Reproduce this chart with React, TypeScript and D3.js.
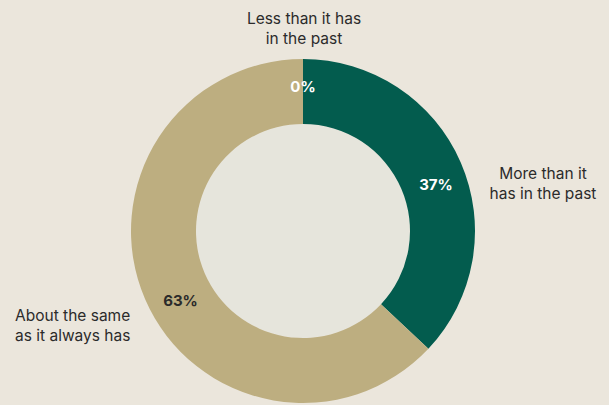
import React from "react";
import * as d3 from "d3";

// Survey responses: share of answers per category
const categories = ["More than it has in the past", "About the same as it always has", "Less than it has in the past"];
const values = [37, 63, 0];
const valueLabels = ["37%", "63%", "0%"];
const categoryLines = [["More than it", "has in the past"], ["About the same", "as it always has"], ["Less than it has", "in the past"]];

const W = 609;
const H = 405;
const cx = 303;
const cy = 231;
const outerR = 172;
const innerR = 107;

const colors = ["#035c4e", "#bdae80", "#bdae80"];
const valueColors = ["#ffffff", "#2a2a2a", "#ffffff"];
// angular nudge (degrees) for value labels inside the ring
const labelNudge = [4, -6.3, 0];

export default function App() {
  const pie = d3
    .pie<number>()
    .sort(null)
    .value((d) => d);
  const arcs = pie(values);
  const arc = d3.arc<d3.PieArcDatum<number>>().innerRadius(innerR).outerRadius(outerR);
  const labelR = (innerR + outerR) / 2 + 1.5;

  const font = "Inter, 'Noto Sans', sans-serif";
  const catSize = 15.5;

  return (
    <svg
      width={W}
      height={H}
      style={{ position: "fixed", left: 0, top: 0, display: "block", background: "#ebe6dc" }}
    >
      <rect width={W} height={H} fill="#ebe6dc" />
      <g transform={`translate(${cx},${cy})`}>
        <circle r={innerR} fill="#e6e5dc" />
        {arcs.map((a, i) =>
          a.endAngle > a.startAngle ? <path key={categories[i]} d={arc(a) || ""} fill={colors[i]} /> : null
        )}
        {arcs.map((a, i) => {
          const mid = (a.startAngle + a.endAngle) / 2 + (labelNudge[i] * Math.PI) / 180;
          const x = labelR * Math.sin(mid);
          const y = -labelR * Math.cos(mid) - (a.endAngle === a.startAngle ? 3 : 0);
          return (
            <text
              key={"v" + i}
              x={x}
              y={y}
              dy="0.36em"
              textAnchor="middle"
              fontFamily={font}
              fontWeight={700}
              fontSize={15}
              fill={valueColors[i]}
            >
              {valueLabels[i]}
            </text>
          );
        })}
      </g>
      {/* category labels */}
      <text x={543} y={179} textAnchor="middle" fontFamily={font} fontSize={catSize} fill="#2b2b2b">
        <tspan x={543}>{categoryLines[0][0]}</tspan>
        <tspan x={543} dy={20}>{categoryLines[0][1]}</tspan>
      </text>
      <text x={15} y={321} textAnchor="start" fontFamily={font} fontSize={catSize} fill="#2b2b2b">
        <tspan x={15}>{categoryLines[1][0]}</tspan>
        <tspan x={15} dy={20}>{categoryLines[1][1]}</tspan>
      </text>
      <text x={304} y={24} textAnchor="middle" fontFamily={font} fontSize={catSize} fill="#2b2b2b">
        <tspan x={304}>{categoryLines[2][0]}</tspan>
        <tspan x={304} dy={20}>{categoryLines[2][1]}</tspan>
      </text>
    </svg>
  );
}
